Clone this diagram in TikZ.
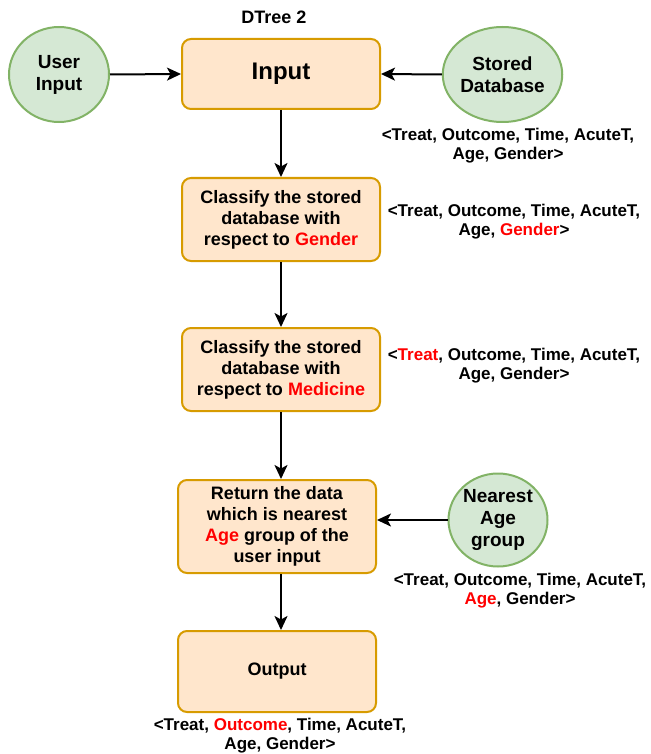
\documentclass[tikz,border=0pt]{standalone}
\usepackage{fontspec}
\setmainfont{Liberation Sans}
\usetikzlibrary{arrows.meta,shapes.geometric}
\definecolor{boxfill}{HTML}{FFE6CC}
\definecolor{boxline}{HTML}{D79B00}
\definecolor{ellfill}{HTML}{D5E8D4}
\definecolor{ellline}{HTML}{82B366}
\definecolor{hilite}{HTML}{FF0000}
\newcommand{\hl}[1]{\textcolor{hilite}{#1}}
\begin{document}
\begin{tikzpicture}[x=1pt,y=-1pt,
  procbox/.style={draw=boxline, fill=boxfill, line width=2pt, rounded corners=9pt,
    minimum width=198pt, inner sep=0pt, align=center,
    font=\bfseries\fontsize{18}{21}\selectfont},
  srcnode/.style={ellipse, draw=ellline, fill=ellfill, line width=2pt,
    minimum width=100pt, minimum height=95pt, inner sep=0pt, align=center,
    font=\bfseries\fontsize{19}{22}\selectfont},
  tuple/.style={inner sep=0pt, align=center, font=\bfseries\fontsize{17}{19}\selectfont},
  flow/.style={-{Stealth[length=14pt,width=13pt,inset=3.5pt]}, line width=2pt}]
\useasboundingbox (0,0) rectangle (650,754);

% title
\node[inner sep=0pt, font=\bfseries\fontsize{18}{21}\selectfont] (title) at (274,17) {DTree 2};

% main column
\node[procbox, minimum height=70pt, font=\bfseries\fontsize{24}{28}\selectfont] (input) at (281,74) {Input};
\node[procbox, minimum height=83pt] (byGender) at (281,219.5)
  {Classify the stored\\database with\\respect to \hl{Gender}};
\node[procbox, minimum height=83pt] (byMedicine) at (281,369.5)
  {Classify the stored\\database with\\respect to \hl{Medicine}};
\node[procbox, minimum height=93pt] (nearest) at (277,526.5)
  {Return the data\\which is nearest\\\hl{Age} group of the\\user input};
\node[procbox, minimum height=81pt] (output) at (277,671.5) {Output};

% sources
\node[srcnode] (user) at (59,74.5) {User\\Input};
\node[srcnode] (stored) at (502.5,74.5) {Stored\\Database};
\node[srcnode, minimum width=99pt, minimum height=93pt] (agegroup) at (498,520) {Nearest\\Age\\group};

% tuples
\node[tuple] (tStored) at (508,146) {<Treat, Outcome, Time, AcuteT,\\Age, Gender>};
\node[tuple] (tGender) at (514,221.5) {<Treat, Outcome, Time, AcuteT,\\Age, \hl{Gender}>};
\node[tuple] (tMedicine) at (514,366) {<\hl{Treat}, Outcome, Time, AcuteT,\\Age, Gender>};
\node[tuple] (tAge) at (520,591) {<Treat, Outcome, Time, AcuteT,\\\hl{Age}, Gender>};
\node[tuple] (tOutput) at (280,736) {<Treat, \hl{Outcome}, Time, AcuteT,\\Age, Gender>};

% connectors
\draw[flow] (user.east) -- (input.west);
\draw[flow] (stored.west) -- (input.east);
\draw[flow] (input.south -| 281,0) -- (byGender.north -| 281,0);
\draw[flow] (byGender.south -| 281,0) -- (byMedicine.north -| 281,0);
\draw[flow] (byMedicine.south -| 281,0) -- (nearest.north -| 281,0);
\draw[flow] (agegroup.west) -- (agegroup.west -| nearest.east);
\draw[flow] (nearest.south -| 281,0) -- (output.north -| 281,0);
\end{tikzpicture}
\end{document}
